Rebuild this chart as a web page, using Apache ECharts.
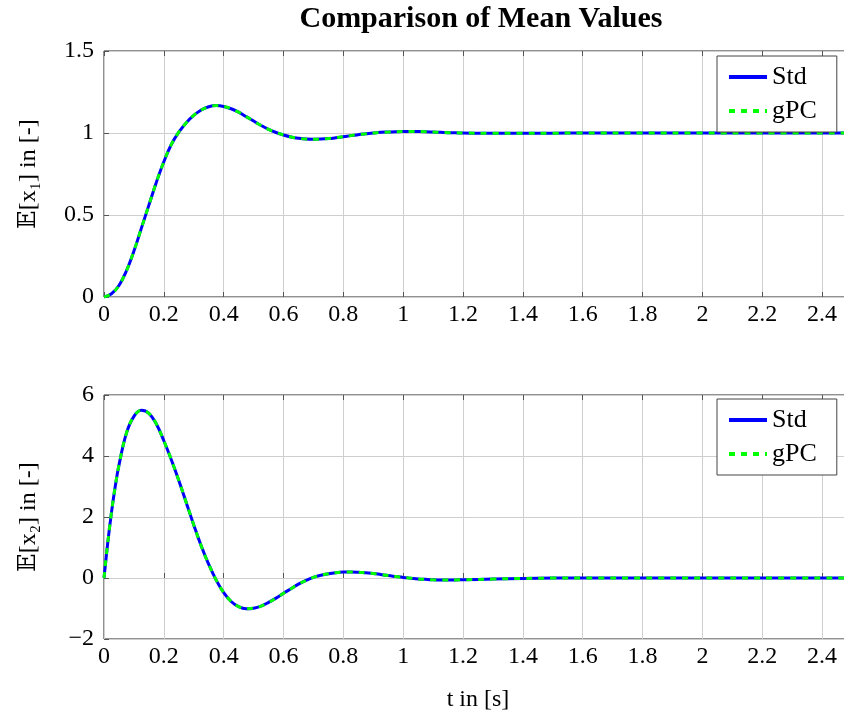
<!DOCTYPE html>
<html>
<head>
<meta charset="utf-8">
<script src="https://cdn.jsdelivr.net/npm/echarts@6/dist/echarts.min.js"></script>
<style>html,body{margin:0;padding:0;background:#fff;}#c{width:844px;height:715px;}</style>
</head>
<body>
<div id="c"></div>
<script>
// ---- data ----
const titleText = 'Comparison of Mean Values';
const xLabel = 't in [s]';
const yLabel1 = '𝔼[x₁] in [-]';
const yLabel2 = '𝔼[x₂] in [-]';
const seriesNames = ['Std', 'gPC'];

const t1 = [0,0.025,0.05,0.075,0.1,0.125,0.15,0.175,0.2,0.225,0.25,0.275,0.3,0.325,0.35,0.375,0.4,0.425,0.45,0.475,0.5,0.525,0.55,0.575,0.6,0.625,0.65,0.675,0.7,0.725,0.75,0.775,0.8,0.825,0.85,0.875,0.9,0.925,0.95,0.975,1.0,1.025,1.05,1.075,1.1,1.125,1.15,1.175,1.2,1.3,1.4,1.5,1.6,1.8,2.0,2.2,2.5];
const x1Std = [0,0.02,0.07,0.16,0.28,0.42,0.56,0.70,0.825,0.93,1.005,1.063,1.107,1.14,1.16,1.167,1.162,1.148,1.127,1.1,1.073,1.046,1.022,1.003,0.988,0.976,0.968,0.963,0.962,0.963,0.966,0.971,0.977,0.984,0.99,0.995,1.0,1.004,1.006,1.008,1.009,1.0095,1.009,1.008,1.006,1.004,1.002,1.001,1.0,0.998,0.998,0.999,1.0,1.0,1.0,1.0,1.0];
const x1gPC = [0,0.02,0.07,0.16,0.28,0.42,0.56,0.70,0.825,0.93,1.005,1.063,1.107,1.14,1.16,1.167,1.162,1.148,1.127,1.1,1.073,1.046,1.022,1.003,0.988,0.976,0.968,0.963,0.962,0.963,0.966,0.971,0.977,0.984,0.99,0.995,1.0,1.004,1.006,1.008,1.009,1.0095,1.009,1.008,1.006,1.004,1.002,1.001,1.0,0.998,0.998,0.999,1.0,1.0,1.0,1.0,1.0];

const t2 = [0,0.0125,0.025,0.0375,0.05,0.075,0.1,0.125,0.15,0.175,0.2,0.225,0.25,0.275,0.3,0.325,0.35,0.375,0.4,0.425,0.45,0.475,0.5,0.525,0.55,0.575,0.6,0.625,0.65,0.675,0.7,0.725,0.75,0.775,0.8,0.825,0.85,0.875,0.9,0.925,0.95,0.975,1.0,1.025,1.05,1.075,1.1,1.125,1.15,1.175,1.2,1.3,1.4,1.5,1.6,1.8,2.0,2.2,2.5];
const x2Std = [0,1.15,2.15,3.0,3.7,4.75,5.3,5.5,5.4,5.05,4.5,3.88,3.2,2.47,1.74,1.05,0.45,-0.07,-0.48,-0.77,-0.94,-1.01,-0.99,-0.92,-0.8,-0.66,-0.5,-0.35,-0.2,-0.08,0.02,0.09,0.14,0.175,0.195,0.2,0.19,0.17,0.15,0.115,0.08,0.05,0.02,-0.005,-0.03,-0.045,-0.058,-0.065,-0.066,-0.063,-0.058,-0.035,-0.015,-0.003,0,0,0,0,0];
const x2gPC = [0,1.15,2.15,3.0,3.7,4.75,5.3,5.5,5.4,5.05,4.5,3.88,3.2,2.47,1.74,1.05,0.45,-0.07,-0.48,-0.77,-0.94,-1.01,-0.99,-0.92,-0.8,-0.66,-0.5,-0.35,-0.2,-0.08,0.02,0.09,0.14,0.175,0.195,0.2,0.19,0.17,0.15,0.115,0.08,0.05,0.02,-0.005,-0.03,-0.045,-0.058,-0.065,-0.066,-0.063,-0.058,-0.035,-0.015,-0.003,0,0,0,0,0];

const xMin = 0, xMax = 2.5, xStep = 0.2;
const y1Min = 0, y1Max = 1.5, y1Step = 0.5;
const y2Min = -2, y2Max = 6, y2Step = 2;

// ---- chart ----
const FONT = '"Liberation Serif", "DejaVu Serif", serif';
const pairs = (t, v) => t.map((x, i) => [x, v[i]]);
const fmtX = v => {
  const k = v / xStep;
  if (Math.abs(k - Math.round(k)) > 1e-6) return '';
  return String(Math.round(v * 10) / 10);
};
const fmtY = v => String(v).replace('-', '\u2212');

const tickLabel = {fontFamily: FONT, fontSize: 24, color: '#000'};

function makeX(gridIndex, top) {
  return {
    type: 'value', gridIndex, min: xMin, max: xMax, interval: xStep,
    position: top ? 'top' : 'bottom',
    axisLine: {show: false},
    axisTick: {show: true, inside: true, length: 5, lineStyle: {color: '#555'}},
    axisLabel: top ? {show: false} : Object.assign({margin: 6, formatter: fmtX, showMaxLabel: false}, tickLabel),
    splitLine: top ? {show: false} : {show: true, lineStyle: {color: '#cfcfcf', width: 1}},
    name: (!top && gridIndex === 1) ? xLabel : '',
    nameLocation: 'middle', nameGap: 49,
    nameTextStyle: {fontFamily: FONT, fontSize: 24, color: '#000'}
  };
}
function makeY(gridIndex, mn, mx, st, name) {
  return {
    type: 'value', gridIndex, min: mn, max: mx, interval: st,
    axisLine: {show: false},
    axisTick: {show: true, inside: true, length: 5, lineStyle: {color: '#555'}},
    axisLabel: Object.assign({margin: 10, formatter: fmtY}, tickLabel),
    splitLine: {show: true, lineStyle: {color: '#cfcfcf', width: 1}},
    name, nameLocation: 'middle', nameGap: 63, nameRotate: 90,
    nameTextStyle: {fontFamily: FONT, fontSize: 24, color: '#000'}
  };
}
function makeLegend(top) {
  return {
    data: seriesNames, orient: 'vertical', left: 717, top,
    padding: [8, 20, 8, 10], itemGap: 8, itemWidth: 38, itemHeight: 14,
    backgroundColor: '#fff', borderColor: '#444', borderWidth: 1, borderRadius: 0,
    itemStyle: {opacity: 0},
    lineStyle: {width: 4},
    textStyle: {fontFamily: FONT, fontSize: 26, color: '#000'},
    selectedMode: false
  };
}
function stdSeries(xi, yi, data) {
  return {name: seriesNames[0], type: 'line', xAxisIndex: xi, yAxisIndex: yi, data, smooth: 0.4,
    symbol: 'none', lineStyle: {color: '#0000ff', width: 3, type: 'solid'}, itemStyle: {color: '#0000ff'}, z: 2};
}
function gpcSeries(xi, yi, data) {
  return {name: seriesNames[1], type: 'line', xAxisIndex: xi, yAxisIndex: yi, data, smooth: 0.4,
    symbol: 'none', lineStyle: {color: '#00ff00', width: 3, type: [6, 6]}, itemStyle: {color: '#00ff00'}, z: 3};
}

const chart = echarts.init(document.getElementById('c'), null, {renderer: 'canvas'});
chart.setOption({
  animation: false,
  backgroundColor: '#fff',
  title: {text: titleText, left: 476, top: -1, textAlign: 'center',
    textStyle: {fontFamily: FONT, fontSize: 30, fontWeight: 'bold', color: '#000'}},
  grid: [
    {left: 104, right: -8, top: 51, height: 246, show: true, borderColor: '#222', borderWidth: 1, containLabel: false, outerBoundsMode: 'none'},
    {left: 104, right: -8, top: 395, height: 244, show: true, borderColor: '#222', borderWidth: 1, containLabel: false, outerBoundsMode: 'none'}
  ],
  xAxis: [makeX(0, false), makeX(1, false), makeX(0, true), makeX(1, true)],
  yAxis: [makeY(0, y1Min, y1Max, y1Step, yLabel1), makeY(1, y2Min, y2Max, y2Step, yLabel2)],
  legend: [makeLegend(56), makeLegend(399)],
  series: [
    stdSeries(0, 0, pairs(t1, x1Std)),
    gpcSeries(0, 0, pairs(t1, x1gPC)),
    stdSeries(1, 1, pairs(t2, x2Std)),
    gpcSeries(1, 1, pairs(t2, x2gPC))
  ]
});
</script>
</body>
</html>
